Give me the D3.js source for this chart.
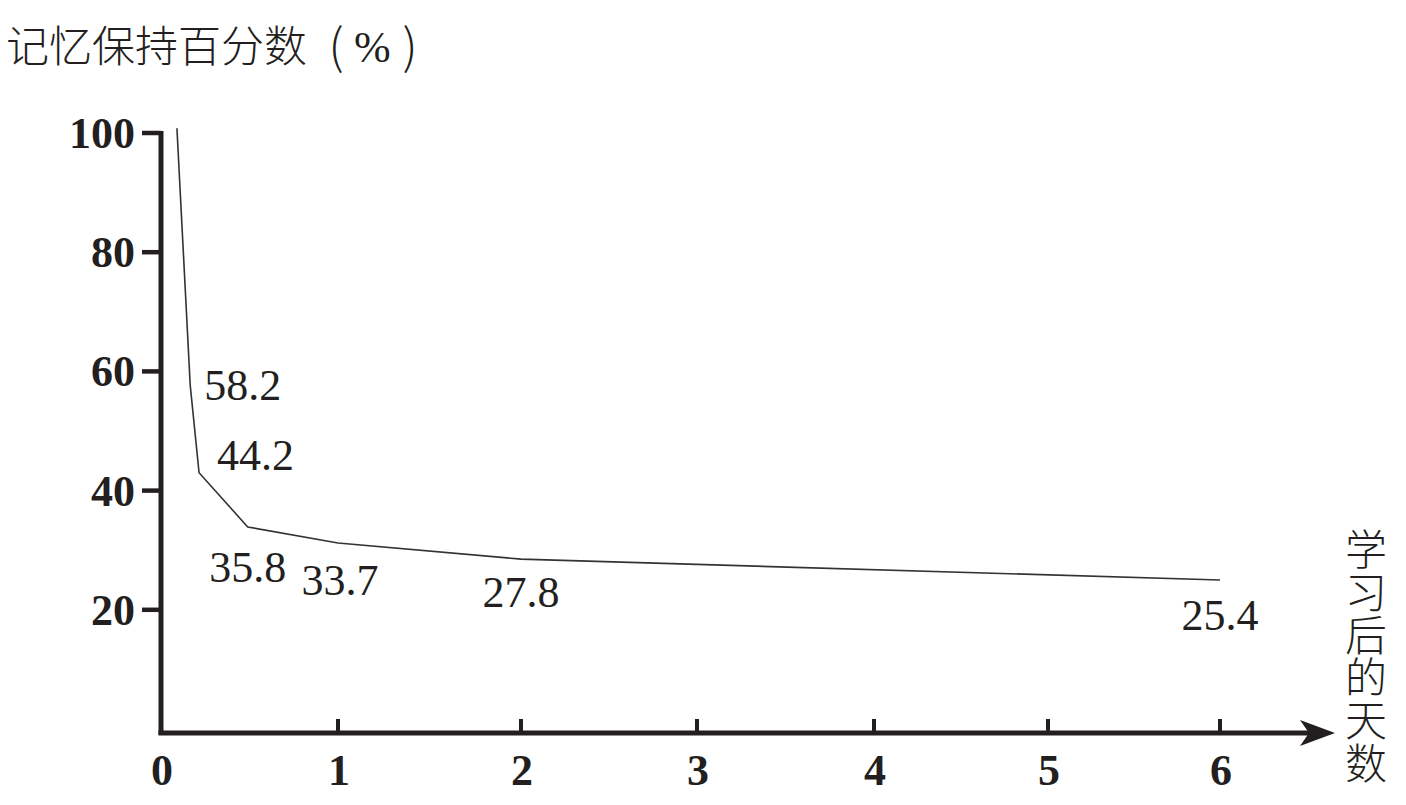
<!DOCTYPE html>
<html>
<head>
<meta charset="utf-8">
<script src="https://cdn.jsdelivr.net/npm/d3@7"></script>
<style>
  html, body { margin: 0; padding: 0; background: #fff; }
  svg { display: block; }
</style>
</head>
<body>
<svg id="chart" width="1406" height="805"></svg>
<script>
// ---- data ----
const days = [0.09, 0.165, 0.215, 0.49, 1, 2, 6];              // time after learning (days)
const curveValues = [100.8, 57.7, 43.0, 33.9, 31.2, 28.5, 25.0]; // plotted curve positions (%)
const labelTexts = ["", "58.2", "44.2", "35.8", "33.7", "27.8", "25.4"];
const yTicks = [20, 40, 60, 80, 100];
const xTicks = [0, 1, 2, 3, 4, 5, 6];
const yTitleMain = "记忆保持百分数";
const yTitleUnit = "%";
const xTitle = "学习后的天数";

// ---- layout ----
const ink = "#231f20";
const serif = "'Liberation Serif', 'Times New Roman', serif";
const cjk = "'Noto Sans CJK SC', sans-serif";
const svg = d3.select("#chart");
// hand-drawn axis: tick spacing is slightly uneven in the original
const x = d3.scaleLinear().domain(xTicks).range([161, 338, 521, 697, 874, 1048, 1220]);
const y = d3.scaleLinear().domain([0, 100]).range([729, 133]);
const axisY = 733;

// y axis line
svg.append("line")
  .attr("x1", x(0)).attr("x2", x(0))
  .attr("y1", y(100) - 2).attr("y2", axisY + 2)
  .attr("stroke", ink).attr("stroke-width", 5);

// y ticks
const yAxis = svg.append("g");
yAxis.selectAll("line").data(yTicks).join("line")
  .attr("x1", 142).attr("x2", x(0))
  .attr("y1", d => y(d)).attr("y2", d => y(d))
  .attr("stroke", ink).attr("stroke-width", 4.5);
yAxis.selectAll("text").data(yTicks).join("text")
  .attr("x", 135).attr("y", d => y(d) + 15)
  .attr("text-anchor", "end")
  .attr("font-family", serif)
  .attr("font-weight", "bold").attr("font-size", 44)
  .attr("fill", ink)
  .text(d => d);

// x axis line with arrow
svg.append("line")
  .attr("x1", x(0) - 2.5).attr("x2", 1310)
  .attr("y1", axisY).attr("y2", axisY)
  .attr("stroke", ink).attr("stroke-width", 5);
svg.append("path")
  .attr("d", `M1335,${axisY} L1300,${axisY - 13} L1309,${axisY} L1300,${axisY + 13} Z`)
  .attr("fill", ink);

// x ticks
const xAxis = svg.append("g");
xAxis.selectAll("line").data(xTicks.filter(d => d > 0)).join("line")
  .attr("x1", d => x(d)).attr("x2", d => x(d))
  .attr("y1", axisY - 14).attr("y2", axisY)
  .attr("stroke", ink).attr("stroke-width", 4);
xAxis.selectAll("text").data(xTicks).join("text")
  .attr("x", d => x(d) + 1).attr("y", axisY + 52)
  .attr("text-anchor", "middle")
  .attr("font-family", serif)
  .attr("font-weight", "bold").attr("font-size", 44)
  .attr("fill", ink)
  .text(d => d);

// curve
const pts = days.map((d, i) => [d, curveValues[i]]);
svg.append("path")
  .datum(pts)
  .attr("d", d3.line().x(d => x(d[0])).y(d => y(d[1])))
  .attr("fill", "none").attr("stroke", "#333").attr("stroke-width", 1.6);

// value labels
const labelPlace = [null, [14, 15, "start"], [18, -3, "start"], [0, 55, "middle"], [2, 52, "middle"], [0, 48, "middle"], [0, 50, "middle"]];
svg.append("g").selectAll("text").data(pts.map((p, i) => ({p, i})).filter(o => labelTexts[o.i]))
  .join("text")
  .attr("x", o => x(o.p[0]) + labelPlace[o.i][0])
  .attr("y", o => y(o.p[1]) + labelPlace[o.i][1])
  .attr("text-anchor", o => labelPlace[o.i][2])
  .attr("font-family", serif)
  .attr("font-size", 44)
  .attr("fill", ink)
  .text(o => labelTexts[o.i]);

// y title
const yt = svg.append("g").attr("fill", ink);
yt.append("text")
  .attr("x", 6).attr("y", 62)
  .attr("font-family", cjk).attr("font-weight", 300).attr("font-size", 43)
  .text(yTitleMain);
yt.append("text")
  .attr("x", 336).attr("y", 64).attr("text-anchor", "middle")
  .attr("font-family", cjk).attr("font-weight", 300).attr("font-size", 48)
  .text("(");
yt.append("text")
  .attr("x", 354).attr("y", 62)
  .attr("font-family", serif).attr("font-size", 44)
  .text(yTitleUnit);
yt.append("text")
  .attr("x", 410).attr("y", 64).attr("text-anchor", "middle")
  .attr("font-family", cjk).attr("font-weight", 300).attr("font-size", 48)
  .text(")");

// x title (vertical)
svg.append("text")
  .attr("x", 1366).attr("y", 528)
  .attr("writing-mode", "vertical-rl")
  .style("writing-mode", "vertical-rl")
  .attr("font-family", cjk).attr("font-weight", 300).attr("font-size", 42)
  .attr("letter-spacing", 0.8)
  .attr("fill", ink)
  .text(xTitle);
</script>
</body>
</html>
